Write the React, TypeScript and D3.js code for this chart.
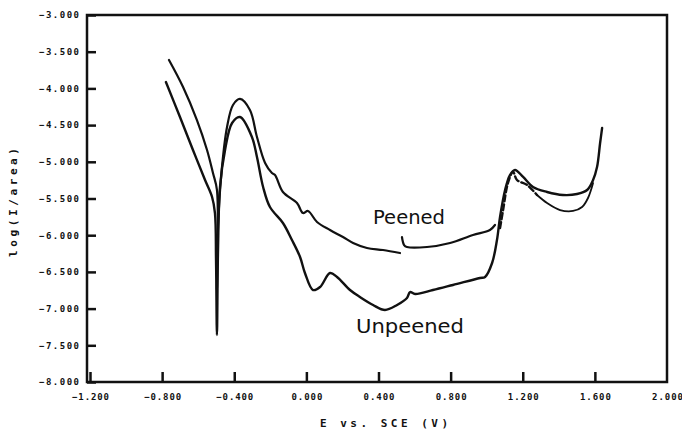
import React, { useEffect, useRef } from "react";
import * as d3 from "d3";

// E vs SCE (V), log(I/area)
const xTicks = [-1.2, -0.8, -0.4, 0, 0.4, 0.8, 1.2, 1.6, 2.0];
const yTicks = [-3, -3.5, -4, -4.5, -5, -5.5, -6, -6.5, -7, -7.5, -8];

const peenedA: [number, number][] = [
  [-0.762, -3.613], [-0.684, -3.981], [-0.607, -4.431], [-0.551, -4.839], [-0.518, -5.153],
  [-0.496, -5.384], [-0.496, -6.747], [-0.49, -5.888], [-0.468, -5.071], [-0.44, -4.526],
  [-0.407, -4.226], [-0.368, -4.144], [-0.313, -4.294], [-0.274, -4.662], [-0.229, -5.016],
  [-0.191, -5.153], [-0.174, -5.18], [-0.13, -5.411], [-0.052, -5.561], [-0.019, -5.698],
  [0.009, -5.67], [0.059, -5.82], [0.131, -5.929], [0.203, -6.025], [0.259, -6.106],
  [0.336, -6.174], [0.425, -6.202], [0.519, -6.243],
];
const peenedB: [number, number][] = [
  [0.53, -6.025], [0.542, -6.134], [0.558, -6.161], [0.669, -6.161], [0.797, -6.106],
  [0.924, -5.997], [1.018, -5.929], [1.046, -5.861],
];
const peenedC: [number, number][] = [
  [1.074, -5.902], [1.091, -5.657], [1.118, -5.289], [1.146, -5.139], [1.168, -5.248],
  [1.224, -5.316], [1.279, -5.452],
];
const peenedD: [number, number][] = [
  [1.279, -5.452], [1.335, -5.561], [1.407, -5.657], [1.479, -5.67], [1.529, -5.616],
  [1.562, -5.493], [1.59, -5.289],
];
const unpeened: [number, number][] = [
  [-0.779, -3.913], [-0.701, -4.39], [-0.629, -4.839], [-0.562, -5.248], [-0.523, -5.48],
  [-0.507, -5.698], [-0.501, -6.338], [-0.496, -7.36], [-0.49, -6.202], [-0.479, -5.343],
  [-0.451, -4.839], [-0.412, -4.471], [-0.368, -4.39], [-0.302, -4.662], [-0.274, -4.935],
  [-0.24, -5.343], [-0.202, -5.616], [-0.13, -5.834], [-0.08, -6.065], [-0.035, -6.297],
  [-0.008, -6.515], [0.037, -6.747], [0.076, -6.706], [0.131, -6.515], [0.17, -6.569],
  [0.242, -6.747], [0.297, -6.842], [0.37, -6.951], [0.436, -7.019], [0.503, -6.951],
  [0.558, -6.856], [0.575, -6.774], [0.603, -6.801], [0.702, -6.747], [0.813, -6.678],
  [0.963, -6.583], [0.991, -6.569], [1.03, -6.379], [1.057, -6.065], [1.074, -5.752],
  [1.102, -5.384], [1.129, -5.18], [1.157, -5.112], [1.202, -5.207], [1.257, -5.343],
  [1.335, -5.411], [1.423, -5.452], [1.501, -5.439], [1.557, -5.384], [1.59, -5.248],
  [1.612, -5.071], [1.629, -4.744], [1.64, -4.54],
];

export default function App() {
  const ref = useRef<SVGSVGElement>(null);
  useEffect(() => {
    const node = ref.current;
    if (!node) return;
    const svg = d3.select(node);
    svg.selectAll("*").remove();
    const m = { l: 87, r: 667, t: 15, b: 382 };
    const x = d3.scaleLinear().domain([-1.2, 2.0]).range([90, 667]);
    const y = d3.scaleLinear().domain([-3, -8]).range([m.t, m.b]);
    const ink = "#111";
    const tickFont = "'DejaVu Sans Mono', monospace";

    // frame
    svg.append("rect").attr("x", m.l).attr("y", m.t).attr("width", m.r - m.l).attr("height", m.b - m.t)
      .attr("fill", "none").attr("stroke", ink).attr("stroke-width", 2.5);

    const gy = svg.append("g").attr("transform", `translate(${m.l},0)`)
      .call(d3.axisLeft(y).tickValues(yTicks).tickSize(-9).tickPadding(8).tickFormat(d3.format(".3f")));
    gy.select(".domain").remove();
    gy.selectAll("line").attr("stroke", ink).attr("stroke-width", 2.5);
    gy.selectAll("text").attr("font-family", tickFont).attr("font-weight", "bold").attr("font-size", 9)
      .attr("fill", ink).attr("textLength", 40).attr("lengthAdjust", "spacing");

    const gx = svg.append("g").attr("transform", `translate(0,${m.b})`)
      .call(d3.axisBottom(x).tickValues(xTicks).tickSize(-10).tickPadding(12).tickFormat(d3.format(".3f")));
    gx.select(".domain").remove();
    gx.selectAll("line").attr("stroke", ink).attr("stroke-width", 2.5);
    gx.selectAll(".tick").filter((d: any) => d >= 2.0).select("line").remove();
    gx.selectAll("text").attr("font-family", tickFont).attr("font-weight", "bold").attr("font-size", 9)
      .attr("fill", ink).attr("textLength", (d: any) => (d < 0 ? 37 : 31)).attr("lengthAdjust", "spacing");

    const line = d3.line<[number, number]>().x((d) => x(d[0])).y((d) => y(d[1])).curve(d3.curveCatmullRom.alpha(0.5));
    const series: [[number, number][], string | null, number][] = [
      [peenedA, null, 2.2], [peenedB, null, 2.2], [peenedC, "6 3", 2.4], [peenedD, null, 1.8], [unpeened, null, 2.4],
    ];
    series.forEach(([d, dash, w]) => {
      svg.append("path").attr("d", line(d)).attr("fill", "none").attr("stroke", ink)
        .attr("stroke-width", w).attr("stroke-linejoin", "round").attr("stroke-linecap", "round")
        .attr("stroke-dasharray", dash);
    });

    svg.append("text").attr("x", 373).attr("y", 224).attr("font-family", "'DejaVu Sans', sans-serif")
      .attr("font-size", 20).attr("fill", ink).attr("textLength", 72).attr("lengthAdjust", "spacingAndGlyphs").text("Peened");
    svg.append("text").attr("x", 356).attr("y", 333).attr("font-family", "'DejaVu Sans', sans-serif")
      .attr("font-size", 20).attr("fill", ink).attr("textLength", 108).attr("lengthAdjust", "spacingAndGlyphs").text("Unpeened");

    svg.append("text").attr("x", 320).attr("y", 427).attr("font-family", tickFont).attr("font-weight", "bold")
      .attr("font-size", 11).attr("fill", ink).attr("textLength", 128).attr("lengthAdjust", "spacing").text("E vs. SCE (V)");
    svg.append("text").attr("transform", "translate(17,257) rotate(-90)").attr("font-family", tickFont)
      .attr("font-weight", "bold").attr("font-size", 11).attr("fill", ink).attr("textLength", 109)
      .attr("lengthAdjust", "spacing").text("log(I/area)");
  }, []);
  return (
    <svg ref={ref} width={682} height={431}
      style={{ position: "absolute", left: 0, top: 0, background: "#fff" }} />
  );
}
